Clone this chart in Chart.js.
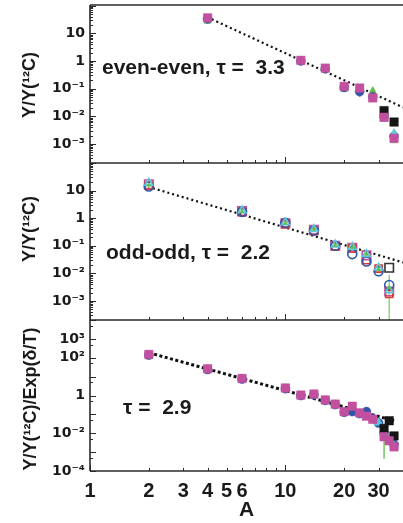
<!DOCTYPE html>
<html><head><meta charset="utf-8">
<script src="https://cdn.jsdelivr.net/npm/chart.js@4.4.1/dist/chart.umd.min.js"></script>
<style>html,body{margin:0;padding:0;background:#fff;overflow:hidden}#wrap{position:relative;width:403px;height:523px}</style>
</head><body><div id="wrap"><canvas id="c" width="403" height="523"></canvas></div>
<script>
// ---------------- data ----------------
const xTickValues = [1, 2, 3, 4, 5, 6, 10, 20, 30];
const xTickLabels = ["1", "2", "3", "4", "5", "6", "10", "20", "30"];
const y1TickValues = [1e-3, 1e-2, 1e-1, 1, 10];
const y1TickLabels = ["10⁻³", "10⁻²", "10⁻¹", "1", "10"];
const y2TickValues = [1e-3, 1e-2, 1e-1, 1, 10];
const y2TickLabels = ["10⁻³", "10⁻²", "10⁻¹", "1", "10"];
const y3TickValues = [1e-4, 1e-2, 1, 1e2, 1e3];
const y3TickLabels = ["10⁻⁴", "10⁻²", "1", "10²", "10³"];

// panel 1 : even-even
const A_ee = [4, 12, 16, 20, 24, 28, 32, 36];
const ee_magenta = [36, 1.05, 0.55, 0.12, 0.105, 0.046, 0.0092, 0.0016];
const ee_black = [null, null, null, null, null, null, 0.016, 0.0062];
const ee_cyan = [null, null, null, null, null, null, 0.0082, 0.0024];
const ee_blue = [33, 1.0, 0.52, 0.11, 0.078, 0.05, 0.0095, 0.0019];
const ee_red = [34, 1.0, 0.53, 0.11, 0.1, 0.075, 0.0105, 0.0014];
const ee_green = [27, 0.93, 0.5, 0.095, 0.09, 0.085, 0.009, 0.0013];
const ee_greenLo = [24, 0.85, 0.45, 0.085, 0.05, 0.04, 0.007, 0.0011];
const ee_greenHi = [45, 1.2, 0.6, 0.14, 0.13, 0.11, 0.012, 0.0035];
const fit1_A = [4.2, 40];
const fit1_Y = [32, 0.021];

// panel 2 : odd-odd
const A_oo = [2, 6, 10, 14, 18, 22, 26, 30, 34];
const oo_magenta = [17, 1.8, 0.66, 0.38, 0.1, 0.085, 0.045, null, 0.0022];
const oo_red = [15, 1.65, 0.6, 0.34, 0.095, 0.08, 0.03, 0.015, 0.0018];
const oo_blue = [14, 1.7, 0.68, 0.36, 0.1, 0.05, 0.027, 0.012, 0.0038];
const oo_cyan = [19, 1.9, 0.7, 0.4, 0.11, 0.09, 0.05, 0.016, 0.0024];
const oo_green = [16, 1.75, 0.66, 0.4, 0.105, 0.09, 0.05, 0.014, 0.003];
const oo_black = [null, null, null, null, null, null, null, null, 0.016];
const oo_greenLo = [12, 1.5, 0.58, 0.33, 0.09, 0.075, 0.04, 0.012, 0.00001];
const oo_greenHi = [22, 2.1, 0.75, 0.45, 0.12, 0.1, 0.06, 0.018, 0.009];
const fit2_A = [2.1, 40];
const fit2_Y = [12.2, 0.025];

// panel 3 : all, scaled by Exp(delta/T)
const A_all = [2, 4, 6, 10, 12, 14, 16, 18, 20, 22, 24, 26, 28, 30, 32, 34, 36];
const m3_magenta = [150, 26, 8, 2.5, 1.05, 1.2, 0.58, 0.35, 0.14, 0.27, 0.12, 0.08, 0.055, null, 0.0065, 0.004, 0.0019];
const m3_black = [null, null, null, null, null, null, null, null, null, null, null, null, null, null, 0.018, 0.046, 0.0072];
const m3_cyan = [null, null, null, null, null, null, null, null, null, null, null, null, null, 0.036, 0.012, 0.006, 0.0022];
const m3_blue = [140, 24, 7.5, 2.3, 1.0, 1.1, 0.55, 0.33, 0.13, 0.14, 0.11, 0.14, 0.06, 0.035, 0.01, 0.005, 0.0025];
const m3_red = [145, 25, 7.8, 2.4, 1.0, 1.15, 0.56, 0.34, 0.135, 0.25, 0.115, 0.078, 0.06, 0.04, 0.009, 0.0045, 0.0021];
const m3_green = [110, 20, 7, 2.2, 0.95, 1.1, 0.5, 0.3, 0.12, 0.22, 0.1, 0.07, 0.05, 0.03, 0.008, 0.0042, 0.002];
const m3_greenLo = [95, 17, 6, 2.0, 0.9, 1.0, 0.45, 0.27, 0.1, 0.2, 0.08, 0.06, 0.045, 0.025, 0.00045, 0.003, 0.0014];
const m3_greenHi = [170, 30, 9, 2.7, 1.1, 1.3, 0.62, 0.38, 0.15, 0.3, 0.15, 0.1, 0.07, 0.045, 0.02, 0.006, 0.003];
const fit3_A = [2, 36];
const fit3_Y = [185, 0.046];

// ---------------- styling ----------------
const C = {magenta:'#c2509f', black:'#151515', blue:'#2f56a8', cyan:'#5fc6dc', green:'#5cbf4a', red:'#d9392e'};
function pts(A, Y){ const out=[]; A.forEach((a,i)=>{ if(Y[i]!==null && Y[i]!==undefined) out.push({x:a,y:Y[i]}); }); return out; }
function filled(axis, A, Y, color, style, r){
  return {type:'scatter', yAxisID:axis, xAxisID:'x', data:pts(A,Y), pointStyle:style, pointRadius:r,
    pointBackgroundColor:color, pointBorderColor:color, pointBorderWidth:0.5, showLine:false};
}
function open(axis, A, Y, color, style, r){
  return {type:'scatter', yAxisID:axis, xAxisID:'x', data:pts(A,Y), pointStyle:style, pointRadius:r,
    pointBackgroundColor:'rgba(255,255,255,0)', pointBorderColor:color, pointBorderWidth:1.6, showLine:false};
}
function fit(axis, A, Y, w, dash){
  return {type:'line', yAxisID:axis, xAxisID:'x', data:pts(A,Y), borderColor:'#111', borderWidth:w,
    borderDash:dash, pointRadius:0, fill:false, showLine:true, tension:0};
}

const datasets = [
  // panel 1
  filled('y1', A_ee, ee_magenta, C.magenta, 'rect', 6),
  filled('y1', A_ee, ee_black, C.black, 'rect', 6),
  filled('y1', A_ee, ee_cyan, C.cyan, 'triangle', 5),
  filled('y1', A_ee, ee_blue, C.blue, 'circle', 4.5),
  filled('y1', A_ee, ee_green, C.green, 'triangle', 4),
  filled('y1', A_ee, ee_red, C.red, 'triangle', 3.5),
  // panel 2
  open('y2', A_oo, oo_black, '#333', 'rect', 6),
  filled('y2', A_oo, oo_green, C.green, 'triangle', 2.5),
  open('y2', A_oo, oo_cyan, C.cyan, 'triangle', 4.5),
  open('y2', A_oo, oo_blue, C.blue, 'circle', 4.5),
  open('y2', A_oo, oo_red, C.red, 'rect', 5),
  open('y2', A_oo, oo_magenta, C.magenta, 'rect', 6),
  // panel 3
  filled('y3', A_all, m3_magenta, C.magenta, 'rect', 6),
  filled('y3', A_all, m3_black, C.black, 'rect', 6),
  filled('y3', A_all, m3_cyan, C.cyan, 'triangle', 5),
  filled('y3', A_all, m3_blue, C.blue, 'circle', 4.5),
  filled('y3', A_all, m3_red, C.red, 'triangle', 4),
  filled('y3', A_all, m3_green, C.green, 'triangle', 4),
  // fits (drawn beneath markers)
  fit('y1', fit1_A, fit1_Y, 2.2, [2, 3]),
  fit('y2', fit2_A, fit2_Y, 2.2, [2, 3]),
  fit('y3', fit3_A, fit3_Y, 3, [3, 2.5]),
];

const errorBars = [
  {axis:'y1', A:A_ee, lo:ee_greenLo, hi:ee_greenHi, color:C.green},
  {axis:'y2', A:A_oo, lo:oo_greenLo, hi:oo_greenHi, color:'#7fd06a'},
  {axis:'y3', A:A_all, lo:m3_greenLo, hi:m3_greenHi, color:C.green},
];

const annotations = [
  {text:'even-even, τ =  3.3', x:102, y:68},
  {text:'odd-odd, τ =  2.2', x:106, y:253},
  {text:'τ =  2.9', x:123, y:408},
];
const yTitles = [
  {text:'Y/Y(¹²C)', x:30, y:85},
  {text:'Y/Y(¹²C)', x:30, y:229},
  {text:'Y/Y(¹²C)/Exp(δ/T)', x:31, y:399},
];

const AXIS_W = 90;
const decor = {
  id:'decor',
  beforeDatasetsDraw(chart){
    const ctx = chart.ctx, xs = chart.scales.x;
    errorBars.forEach(eb=>{
      const ys = chart.scales[eb.axis];
      ctx.save();
      ctx.beginPath(); ctx.rect(xs.left, ys.top, xs.right - xs.left, ys.bottom - ys.top); ctx.clip();
      ctx.strokeStyle = eb.color; ctx.lineWidth = 1.3;
      eb.A.forEach((a,i)=>{
        if(eb.lo[i]==null) return;
        const px = xs.getPixelForValue(a);
        ctx.beginPath(); ctx.moveTo(px, ys.getPixelForValue(eb.lo[i])); ctx.lineTo(px, ys.getPixelForValue(eb.hi[i])); ctx.stroke();
      });
      ctx.restore();
    });
  },
  afterDraw(chart){
    const ctx = chart.ctx, xs = chart.scales.x;
    const panels = ['y1','y2','y3'];
    ctx.save();
    ctx.strokeStyle = '#2a2a2a'; ctx.lineWidth = 1;
    panels.forEach(id=>{
      const ys = chart.scales[id];
      const e0 = Math.floor(Math.log10(ys.min)), e1 = Math.ceil(Math.log10(ys.max));
      for(let e=e0; e<=e1; e++){
        const ks = id==='y3' ? [1,5] : [1,2,3,4,5,6,7,8,9];
        ks.forEach(k=>{
          const v = k*Math.pow(10,e);
          if(v < ys.min || v > ys.max) return;
          const py = Math.round(ys.getPixelForValue(v))+0.5;
          const len = k===1 ? 6 : 3;
          ctx.beginPath(); ctx.moveTo(xs.left, py); ctx.lineTo(xs.left+len, py); ctx.stroke();
        });
      }
      for(let e=0; e<=1; e++){
        for(let k=1; k<=9; k++){
          const v = k*Math.pow(10,e);
          if(v < xs.min || v > xs.max) continue;
          const px = Math.round(xs.getPixelForValue(v))+0.5;
          const len = k===1 ? 6 : 3;
          ctx.beginPath(); ctx.moveTo(px, ys.bottom); ctx.lineTo(px, ys.bottom-len); ctx.stroke();
        }
      }
    });
    ctx.lineWidth = 1.6; ctx.strokeStyle = '#2a2a2a';
    const top = chart.scales.y1.top, bot = chart.scales.y3.bottom;
    ctx.beginPath(); ctx.moveTo(xs.left, top); ctx.lineTo(xs.left, bot); ctx.stroke();
    [chart.scales.y1.top, chart.scales.y1.bottom, chart.scales.y2.bottom, chart.scales.y3.bottom].forEach(y=>{
      ctx.beginPath(); ctx.moveTo(xs.left, y); ctx.lineTo(chart.width, y); ctx.stroke();
    });
    ctx.fillStyle = '#1a1a1a';
    ctx.font = 'bold 21px "Liberation Sans", Arial, sans-serif';
    ctx.textAlign = 'left'; ctx.textBaseline = 'middle';
    annotations.forEach(a=> ctx.fillText(a.text, a.x, a.y));
    ctx.font = 'bold 18px "Liberation Sans", Arial, sans-serif';
    ctx.textAlign = 'center';
    yTitles.forEach(t=>{
      ctx.save(); ctx.translate(t.x, t.y); ctx.rotate(-Math.PI/2); ctx.fillText(t.text, 0, 0); ctx.restore();
    });
    ctx.restore();
  }
};

function yScale(vals, labels, min, max, weight){
  return {
    type:'logarithmic', position:'left', stack:'panels', stackWeight:weight, min:min, max:max, bounds:'data',
    border:{display:false}, grid:{display:false, drawTicks:false},
    afterBuildTicks: s => { s.ticks = vals.map(v=>({value:v})); },
    afterFit: s => { s.width = AXIS_W; s.paddingTop = 0; s.paddingBottom = 0; s.paddingLeft = 0; s.paddingRight = 0; },
    ticks:{ autoSkip:false, padding:5, color:'#1a1a1a', font:{family:'"DejaVu Sans", sans-serif', weight:'bold', size:14},
      callback:(v,i)=>labels[i] }
  };
}

new Chart(document.getElementById('c'), {
  type:'scatter',
  data:{datasets},
  options:{
    responsive:false, animation:false, devicePixelRatio:1,
    layout:{autoPadding:false, padding:{top:5, right:0, bottom:0, left:0}},
    plugins:{legend:{display:false}, tooltip:{enabled:false}},
    scales:{
      x:{type:'logarithmic', position:'bottom', min:1, max:40, bounds:'data',
        border:{display:false}, grid:{display:false, drawTicks:false},
        afterBuildTicks: s => { s.ticks = xTickValues.map(v=>({value:v})); },
        afterFit: s => { s.height = 52; s.paddingLeft = 0; s.paddingRight = 0; s.paddingTop = 0; s.paddingBottom = 0; },
        ticks:{autoSkip:false, maxRotation:0, minRotation:0, padding:8, color:'#1a1a1a',
          font:{family:'"Liberation Sans", Arial, sans-serif', weight:'bold', size:20},
          callback:(v,i)=>xTickLabels[i]},
        title:{display:true, text:'A', color:'#1a1a1a', padding:{top:0,bottom:0},
          font:{family:'"Liberation Sans", Arial, sans-serif', weight:'bold', size:21}}
      },
      y3: yScale(y3TickValues, y3TickLabels, 1e-4, 1e4, 151),
      y2: yScale(y2TickValues, y2TickLabels, 2.05e-4, 100, 157),
      y1: yScale(y1TickValues, y1TickLabels, 2.05e-4, 105, 158),
    }
  },
  plugins:[decor]
});
</script>
</body></html>
